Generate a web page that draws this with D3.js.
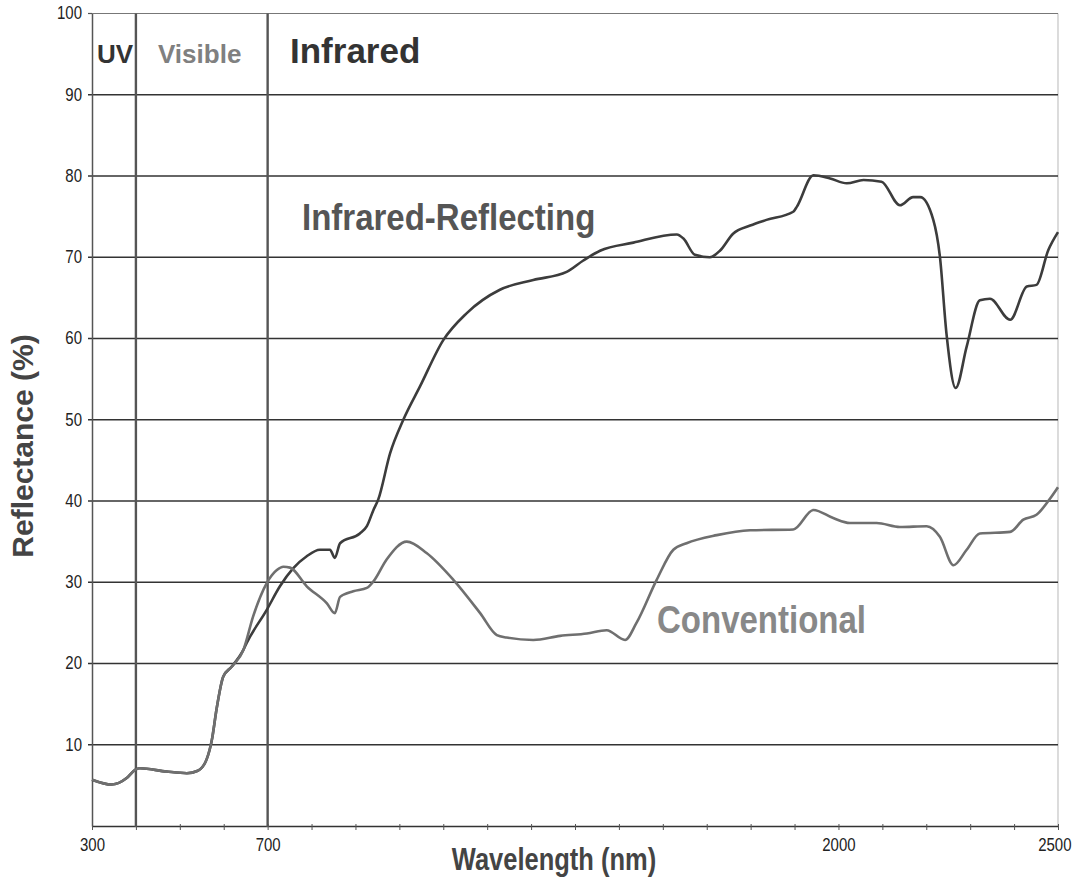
<!DOCTYPE html>
<html>
<head>
<meta charset="utf-8">
<script src="https://cdn.jsdelivr.net/npm/d3@7/dist/d3.min.js"></script>
<style>
  html, body { margin: 0; padding: 0; background: #ffffff; }
  svg { display: block; }
  text { font-family: "Liberation Sans", Arial, "DejaVu Sans", sans-serif; }
</style>
</head>
<body>
<svg id="chart" width="1073" height="879"></svg>
<script>
// ---------------- data ----------------
// Common part of both spectra (the two curves overlap up to ~645 nm)
const sharedWavelength  = [300, 345, 379, 398, 409, 470, 516, 541, 561, 573, 584, 599, 618, 645];
const sharedReflectance = [5.7, 5.1, 5.9, 6.9, 7.1, 6.7, 6.5, 6.8, 8.2, 10.6, 14.5, 18.4, 19.6, 21.7];

// Conventional coating (after the split)
const conventionalWavelength  = [667, 698, 721, 736, 751, 789, 835, 853, 865, 895, 926, 941, 971, 1017, 1062, 1123, 1184, 1222, 1244, 1305, 1366, 1427, 1472, 1514, 1540, 1586, 1624, 1654, 1723, 1799, 1897, 1943, 1988, 2026, 2087, 2140, 2201, 2231, 2262, 2292, 2322, 2391, 2421, 2451, 2482, 2500];
const conventionalReflectance = [25.8, 29.9, 31.5, 31.9, 31.8, 29.5, 27.4, 26.2, 28.2, 28.9, 29.3, 30.1, 32.8, 35.0, 33.6, 30.3, 26.2, 23.5, 23.2, 22.9, 23.4, 23.7, 24.1, 22.9, 25.0, 30.3, 34.0, 34.8, 35.8, 36.4, 36.5, 38.9, 37.9, 37.3, 37.3, 36.8, 36.9, 35.6, 32.1, 34.0, 36.0, 36.2, 37.7, 38.3, 40.3, 41.7];

// Infrared-reflecting coating (after the split)
const irWavelength  = [652, 698, 728, 758, 789, 819, 842, 853, 865, 910, 926, 941, 952, 979, 1009, 1047, 1100, 1153, 1229, 1305, 1381, 1419, 1457, 1533, 1632, 1647, 1673, 1707, 1730, 1760, 1799, 1836, 1897, 1905, 1943, 1981, 2019, 2057, 2098, 2140, 2170, 2186, 2216, 2231, 2246, 2267, 2292, 2322, 2345, 2391, 2429, 2451, 2478, 2500];
const irReflectance = [22.5, 26.6, 29.5, 31.7, 33.2, 34.0, 34.0, 33.0, 34.8, 36.0, 36.9, 38.9, 40.2, 45.9, 50.0, 54.1, 59.8, 63.1, 66.0, 67.2, 68.2, 69.6, 70.8, 71.8, 72.8, 72.3, 70.3, 70.0, 70.8, 72.9, 73.9, 74.6, 75.6, 76.2, 80.1, 79.7, 79.1, 79.5, 79.3, 76.4, 77.4, 77.4, 74.6, 70.1, 60.6, 53.9, 59.0, 64.7, 64.9, 62.3, 66.4, 66.6, 70.9, 73.1];

// Axes / labels
const xTickLabels   = [300, 700, 2000, 2500];
const xMinorStep    = 100;
const yTickValues   = [10, 20, 30, 40, 50, 60, 70, 80, 90, 100];
const regionBounds  = [400, 700];           // UV | Visible | Infrared
const regionNames   = ["UV", "Visible", "Infrared"];
const seriesNames   = ["Infrared-Reflecting", "Conventional"];
const xTitle = "Wavelength (nm)";
const yTitle = "Reflectance (%)";

// ---------------- drawing ----------------
const svg = d3.select("#chart");
const x = d3.scaleLinear().domain([300, 2500]).range([92, 1058]);
const y = d3.scaleLinear().domain([0, 100]).range([826, 13.5]);

const sans = '"Liberation Sans", Arial, sans-serif';

// helper: text with vertical stretch
function label(txt, px, py, size, color, sy, anchor) {
  svg.append("text")
    .attr("transform", `translate(${px},${py}) scale(1,${sy})`)
    .attr("font-size", size)
    .attr("font-weight", "bold")
    .attr("fill", color)
    .attr("text-anchor", anchor || "start")
    .text(txt);
}

// right border and top line
svg.append("line").attr("x1", x(2500)).attr("x2", x(2500)).attr("y1", y(100)).attr("y2", y(0))
  .attr("stroke", "#c4c4c4").attr("stroke-width", 1.2);
svg.append("line").attr("x1", x(300)).attr("x2", x(2500)).attr("y1", y(100)).attr("y2", y(100))
  .attr("stroke", "#777").attr("stroke-width", 1.2);

// horizontal grid lines (extending left as tick marks)
svg.append("g").selectAll("line").data(yTickValues.filter(v => v < 100)).join("line")
  .attr("x1", x(300) - 4).attr("x2", x(2500))
  .attr("y1", d => y(d)).attr("y2", d => y(d))
  .attr("stroke", "#333").attr("stroke-width", 1.5);
svg.append("line").attr("x1", x(300) - 4).attr("x2", x(300)).attr("y1", y(100)).attr("y2", y(100))
  .attr("stroke", "#555").attr("stroke-width", 1.2);

// y axis with labels
const yAxis = d3.axisLeft(y).tickValues(yTickValues).tickSize(0).tickPadding(10);
const gy = svg.append("g").attr("transform", `translate(${x(300)},0)`).call(yAxis);
gy.select(".domain").attr("stroke", "#555").attr("stroke-width", 1.5);
gy.selectAll("text")
  .attr("font-family", sans).attr("font-size", 15).attr("fill", "#222")
  .attr("transform", "scale(1,1.2)").attr("dy", "0.3em");

// x axis: minor ticks every 100 nm, labels at selected values
const xMinor = d3.range(300, 2501, xMinorStep);
const xAxis = d3.axisBottom(x).tickValues(xMinor).tickSize(4).tickSizeOuter(0)
  .tickFormat(d => xTickLabels.includes(d) ? d : "").tickPadding(14);
const gx = svg.append("g").attr("transform", `translate(0,${y(0)})`).call(xAxis);
gx.select(".domain").attr("stroke", "#333").attr("stroke-width", 1.5);
gx.selectAll(".tick line").attr("stroke", "#555").attr("stroke-width", 1).attr("y1", -2);
gx.selectAll("text")
  .attr("font-family", sans).attr("font-size", 15).attr("fill", "#222")
  .attr("transform", "scale(1,1.2)").attr("y", 10);
// last label sits flush against the right edge, as in the reference
gx.selectAll(".tick").filter(d => d === 2500).select("text")
  .attr("text-anchor", "end").attr("x", 13);

// region separators
svg.append("g").selectAll("line").data(regionBounds).join("line")
  .attr("x1", d => x(d)).attr("x2", d => x(d))
  .attr("y1", y(100)).attr("y2", y(0) + 1)
  .attr("stroke", "#555").attr("stroke-width", 2.4);

// series
const line = d3.line().x(d => x(d[0])).y(d => y(d[1])).curve(d3.curveMonotoneX);
const sharedPts = sharedWavelength.map((w, i) => [w, sharedReflectance[i]]);
const irPts = sharedPts.concat(irWavelength.map((w, i) => [w, irReflectance[i]]));
const convPts = sharedPts.concat(conventionalWavelength.map((w, i) => [w, conventionalReflectance[i]]));

svg.append("path").datum(irPts).attr("d", line)
  .attr("fill", "none").attr("stroke", "#3c3c3c").attr("stroke-width", 2.6)
  .attr("stroke-linejoin", "round");
svg.append("path").datum(convPts).attr("d", line)
  .attr("fill", "none").attr("stroke", "#6f6f6f").attr("stroke-width", 2.6)
  .attr("stroke-linejoin", "round");

// region labels
label(regionNames[0], 97, 62.5, 26, "#333", 1.0);
label(regionNames[1], 158, 62.5, 26, "#808080", 1.0);
label(regionNames[2], 290, 63, 35, "#333", 1.0);

// series labels
label(seriesNames[0], 302, 230, 33, "#555", 1.14);
label(seriesNames[1], 657, 633, 33, "#888", 1.17);

// axis titles
label(xTitle, 554, 870, 25.5, "#444", 1.2, "middle");
svg.append("text")
  .attr("transform", `translate(33,446) rotate(-90)`)
  .attr("font-size", 30).attr("font-weight", "bold").attr("fill", "#444")
  .attr("text-anchor", "middle").text(yTitle);
</script>
</body>
</html>
